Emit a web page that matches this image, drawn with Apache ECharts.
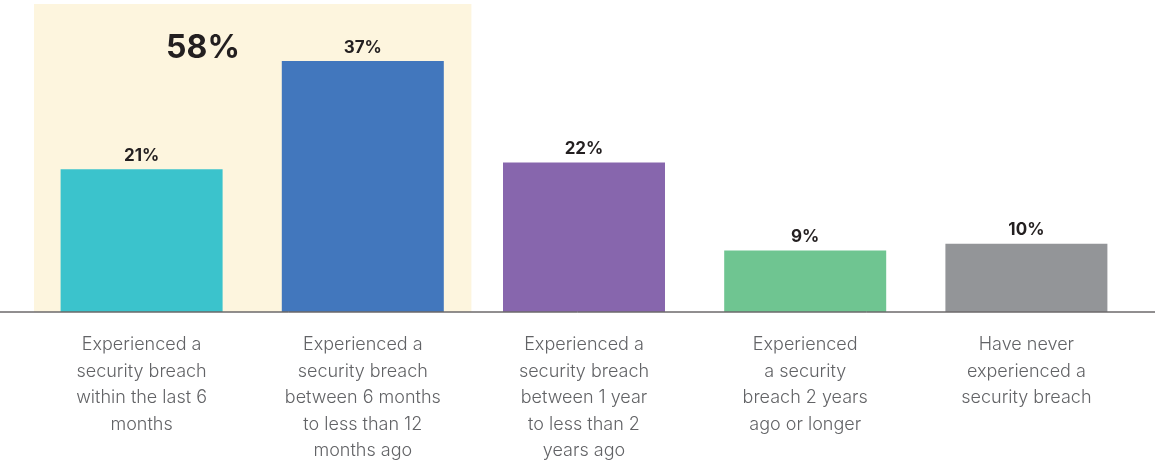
<!DOCTYPE html>
<html><head><meta charset="utf-8">
<script src="https://cdn.jsdelivr.net/npm/echarts@6/dist/echarts.min.js"></script>
<style>html,body{margin:0;padding:0;background:#fff;overflow:hidden;}#c{width:1155px;height:464px;}</style>
</head><body><div id="c"></div>
<script>
const categories = [
  "Experienced a\nsecurity breach\nwithin the last 6\nmonths",
  "Experienced a\nsecurity breach\nbetween 6 months\nto less than 12\nmonths ago",
  "Experienced a\nsecurity breach\nbetween 1 year\nto less than 2\nyears ago",
  "Experienced\na security\nbreach 2 years\nago or longer",
  "Have never\nexperienced a\nsecurity breach"
];
const values = [21, 37, 22, 9, 10];
const colors = ["#3bc3cc", "#4277bd", "#8766ad", "#6fc591", "#939598"];
const highlightLabel = "58%";

const chart = echarts.init(document.getElementById('c'));
const option = {
  animation: false,
  grid: {left: 31, right: 18, top: 0, bottom: 151},
  xAxis: {
    type: 'category', data: categories,
    axisLine: {show: false}, axisTick: {show: false},
    axisLabel: {interval: 0, margin: 20, color: '#626366', fontFamily: 'Inter', fontSize: 18, fontWeight: 300, lineHeight: 26.5}
  },
  yAxis: {type: 'value', min: 0, max: 46, show: false, splitLine: {show: false}},
  series: [{
    type: 'bar', barWidth: 162, z: 5,
    data: values.map((v, i) => ({value: v, itemStyle: {color: colors[i]}})),
    label: {show: true, position: 'top', distance: 5, formatter: '{c}%', color: '#231f20', fontFamily: 'Inter', fontWeight: 700, fontSize: 17}
  }]
};
chart.setOption(option);
const base = chart.convertToPixel({xAxisIndex: 0, yAxisIndex: 0}, [0, 0]);
const c1 = chart.convertToPixel({xAxisIndex: 0, yAxisIndex: 0}, [1, 0]);
const step = c1[0] - base[0];
chart.setOption({
  graphic: [
    {type: 'rect', z: -1, shape: {x: 34, y: 4, width: c1[0] + step/2 - 34 - 2, height: base[1] - 4}, style: {fill: '#fdf5de'}},
    {type: 'line', z: 10, shape: {x1: 0, y1: base[1] + 0.5, x2: 1155, y2: base[1] + 0.5}, style: {stroke: '#231f20', lineWidth: 1}},
    {type: 'text', z: 10, x: 203, y: 48, style: {text: highlightLabel, fill: '#231f20', font: '700 32px Inter', textAlign: 'center', textVerticalAlign: 'middle'}}
  ]
});
</script></body></html>
